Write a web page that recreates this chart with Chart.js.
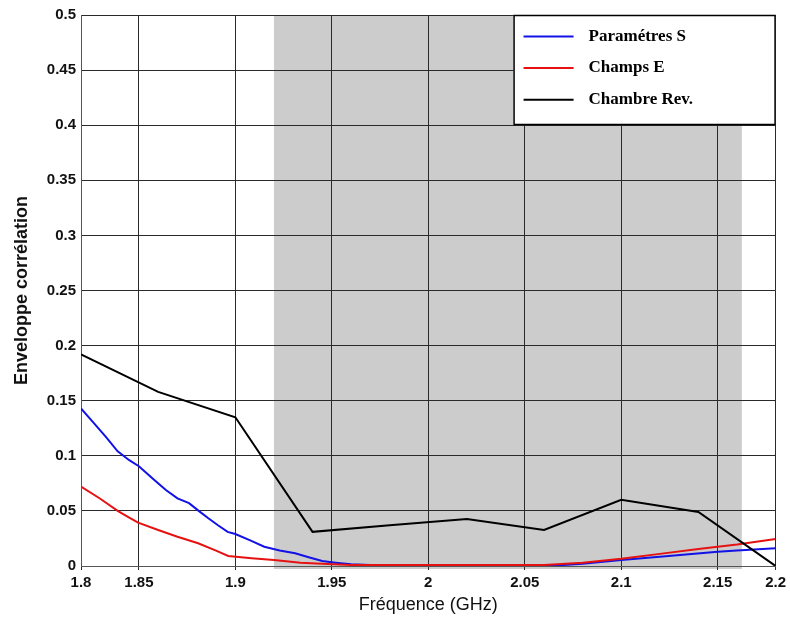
<!DOCTYPE html>
<html><head><meta charset="utf-8">
<script src="https://cdn.jsdelivr.net/npm/chart.js@4/dist/chart.umd.min.js"></script>
<style>html,body{margin:0;padding:0;background:#fff}</style>
</head><body>
<canvas id="c" width="790" height="619" style="width:790px;height:619px;display:block"></canvas>
<script>
// ---- data ----
const xTickValues = [1.82, 1.85, 1.9, 1.95, 2.0, 2.05, 2.1, 2.15, 2.18];
const xTickLabels = ['1.8', '1.85', '1.9', '1.95', '2', '2.05', '2.1', '2.15', '2.2'];
const yTickValues = [0, 0.05, 0.1, 0.15, 0.2, 0.25, 0.3, 0.35, 0.4, 0.45, 0.5];
const yTickLabels = ['0', '0.05', '0.1', '0.15', '0.2', '0.25', '0.3', '0.35', '0.4', '0.45', '0.5'];
const seriesNames = ['Paramétres S', 'Champs E', 'Chambre Rev.'];

const freqS = [1.82, 1.826, 1.833, 1.839, 1.845, 1.850, 1.858, 1.864, 1.870, 1.876, 1.881, 1.886, 1.891, 1.896, 1.900, 1.908, 1.915, 1.923, 1.931, 1.938, 1.945, 1.952, 1.960, 1.970, 2.00, 2.06, 2.07, 2.08, 2.10, 2.12, 2.15, 2.16, 2.18];
const valS  = [0.143, 0.131, 0.117, 0.104, 0.096, 0.0905, 0.078, 0.069, 0.0614, 0.057, 0.050, 0.0433, 0.037, 0.031, 0.029, 0.023, 0.0175, 0.014, 0.0115, 0.008, 0.0045, 0.003, 0.0015, 0.001, 0.0005, 0.0005, 0.001, 0.002, 0.0055, 0.0085, 0.013, 0.014, 0.016];

const freqE = [1.82, 1.83, 1.839, 1.845, 1.8496, 1.86, 1.870, 1.8807, 1.890, 1.8963, 1.9084, 1.92, 1.9338, 1.945, 1.96, 2.06, 2.08, 2.10, 2.12, 2.14, 2.16, 2.18];
const valE  = [0.072, 0.061, 0.050, 0.044, 0.0393, 0.0327, 0.0266, 0.0206, 0.014, 0.0091, 0.007, 0.0054, 0.003, 0.002, 0.001, 0.001, 0.003, 0.0065, 0.011, 0.0155, 0.0195, 0.0245];

const freqR = [1.82, 1.86, 1.90, 1.94, 1.98, 2.02, 2.06, 2.10, 2.14, 2.18];
const valR  = [0.192, 0.158, 0.135, 0.031, 0.037, 0.0426, 0.0327, 0.060, 0.049, 0.0];

const bandRange = [1.92, 2.1625];

// ---- chart ----
const pts = (xs, ys) => xs.map((x, i) => ({x: x, y: ys[i]}));

const bandPlugin = {
  id: 'band',
  beforeDraw(chart) {
    const {ctx, chartArea, scales} = chart;
    const x1 = scales.x.getPixelForValue(bandRange[0]);
    const x2 = scales.x.getPixelForValue(bandRange[1]);
    ctx.save();
    ctx.fillStyle = '#cccccc';
    ctx.fillRect(x1, chartArea.top, x2 - x1, chartArea.bottom - chartArea.top + 3);
    ctx.restore();
  }
};

const legendPlugin = {
  id: 'boxLegend',
  afterDraw(chart) {
    const {ctx, chartArea} = chart;
    const w = 262, h = 110;
    const left = chartArea.right - w, top = chartArea.top;
    ctx.save();
    ctx.fillStyle = '#ffffff';
    ctx.fillRect(left, top, w, h);
    ctx.strokeStyle = '#000';
    ctx.lineWidth = 1.5;
    ctx.strokeRect(left + 0.5, top + 0.5, w - 1, h - 1);
    ctx.font = 'bold 17px "Liberation Serif", "Times New Roman", serif';
    ctx.textBaseline = 'middle';
    ctx.textAlign = 'left';
    chart.data.datasets.forEach((ds, i) => {
      const y = top + 21.5 + i * 31.6;
      ctx.strokeStyle = ds.borderColor;
      ctx.lineWidth = 2;
      ctx.beginPath();
      ctx.moveTo(left + 10, y);
      ctx.lineTo(left + 60, y);
      ctx.stroke();
      ctx.fillStyle = '#000';
      ctx.fillText(ds.label, left + 75, y);
    });
    ctx.restore();
  }
};

const tickFont = {family: '"Liberation Sans", Arial, sans-serif', weight: 'bold', size: 15};

new Chart(document.getElementById('c'), {
  type: 'line',
  data: {
    datasets: [
      {label: seriesNames[0], data: pts(freqS, valS), borderColor: '#1212e6', borderWidth: 2, pointRadius: 0, fill: false, order: 2},
      {label: seriesNames[1], data: pts(freqE, valE), borderColor: '#e61212', borderWidth: 2, pointRadius: 0, fill: false, order: 1},
      {label: seriesNames[2], data: pts(freqR, valR), borderColor: '#000000', borderWidth: 2, pointRadius: 0, fill: false, order: 0}
    ]
  },
  options: {
    responsive: false,
    animation: false,
    devicePixelRatio: 1,
    layout: {padding: {left: 0, top: 15, right: 14, bottom: 0}},
    plugins: {legend: {display: false}, tooltip: {enabled: false}},
    elements: {line: {tension: 0}},
    scales: {
      x: {
        type: 'linear', min: 1.82, max: 2.18,
        afterBuildTicks: s => { s.ticks = xTickValues.map(v => ({value: v})); },
        afterFit: s => { s.height = 53; },
        ticks: {callback: (v, i) => xTickLabels[i], autoSkip: false, maxRotation: 0, color: '#111', font: tickFont, padding: 4},
        grid: {color: '#2a2a2a', lineWidth: 1, tickLength: 4, drawTicks: true},
        border: {color: '#555', width: 1},
        title: {display: true, text: 'Fréquence (GHz)', color: '#111',
                font: {family: '"Liberation Sans", Arial, sans-serif', size: 18}, padding: {top: 0, bottom: 3}}
      },
      y: {
        type: 'linear', min: 0, max: 0.5,
        afterBuildTicks: s => { s.ticks = yTickValues.map(v => ({value: v})); },
        afterFit: s => { s.width = 81; },
        ticks: {callback: (v, i) => yTickLabels[i], color: '#111', font: tickFont, padding: 5},
        grid: {color: '#2a2a2a', lineWidth: 1, drawTicks: false},
        border: {color: '#555', width: 1},
        title: {display: true, text: 'Enveloppe corrélation', color: '#111',
                font: {family: '"Liberation Sans", Arial, sans-serif', size: 18, weight: 'bold'}, padding: {top: 11, bottom: 0}}
      }
    }
  },
  plugins: [bandPlugin, legendPlugin]
});
</script>
</body></html>
